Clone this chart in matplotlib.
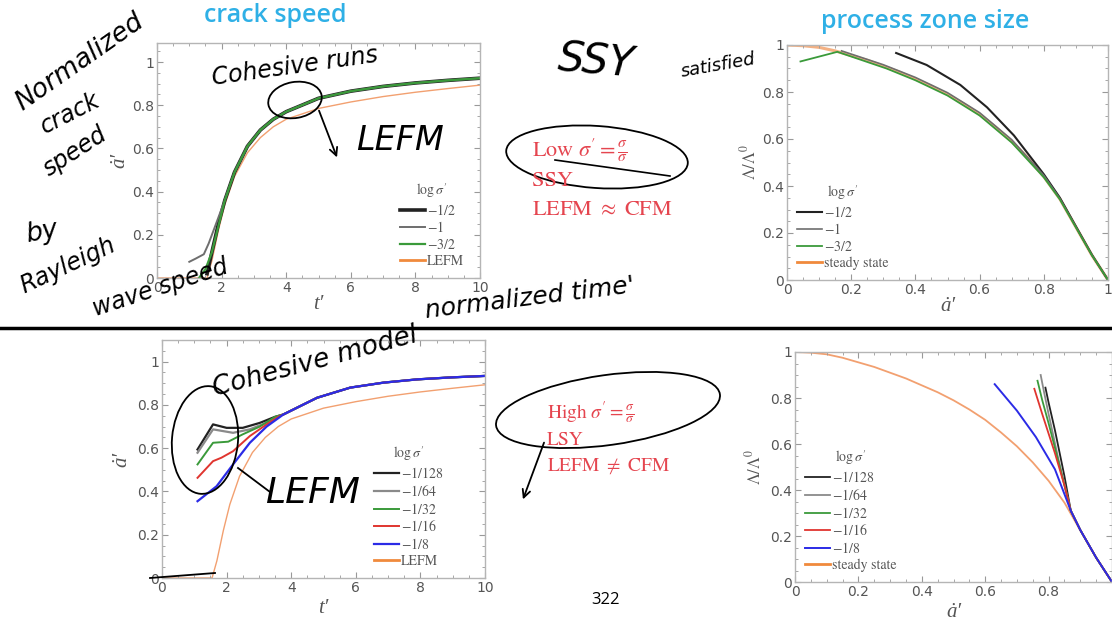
import matplotlib
matplotlib.use("Agg")
import matplotlib.pyplot as plt
from matplotlib.patches import Ellipse, FancyArrowPatch
from matplotlib.ticker import MultipleLocator, AutoMinorLocator, FuncFormatter

plt.rcParams['mathtext.fontset'] = 'stix'

# ---- crack speed, low sigma' (top left) ----
lefm_t = [0, 1.55, 1.7, 1.9, 2.1, 2.4, 2.8, 3.2, 3.6, 4, 5, 6, 7, 8, 9, 10]
lefm_v = [0, 0, 0.08, 0.22, 0.34, 0.47, 0.58, 0.65, 0.70, 0.735, 0.785, 0.815, 0.84, 0.86, 0.877, 0.893]

low_tail_t = [2.1, 2.4, 2.8, 3.2, 3.6, 4, 5, 6, 7, 8, 9, 10]
low_tail_v = [0.36, 0.49, 0.61, 0.685, 0.735, 0.77, 0.832, 0.865, 0.887, 0.903, 0.915, 0.925]
half_t = [1.55, 1.7, 1.9] + low_tail_t
half_v = [0.02, 0.12, 0.25] + low_tail_v
one_t = [1.0, 1.2, 1.45, 1.6, 1.8, 2.0] + low_tail_t
one_v = [0.075, 0.09, 0.11, 0.16, 0.24, 0.32] + low_tail_v
threehalf_t = [1.3, 1.5, 1.7, 1.9] + low_tail_t
threehalf_v = [0.0, 0.04, 0.12, 0.24] + low_tail_v

# ---- crack speed, high sigma' (bottom left) ----
high_tail_t = [3.76, 4.8, 5.83, 6.86, 7.9, 8.93, 10]
high_tail_v = [0.756, 0.833, 0.88, 0.903, 0.918, 0.927, 0.934]
s128_t = [1.1, 1.58, 2.0, 2.5, 3.03, 3.5] + high_tail_t
s128_v = [0.594, 0.71, 0.694, 0.694, 0.717, 0.745] + high_tail_v
s64_t = [1.1, 1.58, 2.2, 2.72, 3.24, 3.6] + high_tail_t
s64_v = [0.579, 0.687, 0.671, 0.687, 0.718, 0.748] + high_tail_v
s32_t = [1.1, 1.58, 2.05, 2.5, 3.03, 3.5] + high_tail_t
s32_v = [0.525, 0.625, 0.63, 0.664, 0.70, 0.745] + high_tail_v
s16_t = [1.1, 1.58, 1.84, 2.2, 2.72, 3.24, 3.6] + high_tail_t
s16_v = [0.463, 0.54, 0.556, 0.586, 0.656, 0.71, 0.745] + high_tail_v
s8_t = [1.1, 1.69, 2.2, 2.72, 3.24] + high_tail_t
s8_v = [0.355, 0.424, 0.525, 0.625, 0.70] + high_tail_v

# ---- process zone size ----
steady_a = [0, 0.05, 0.1, 0.15, 0.2, 0.25, 0.3, 0.35, 0.4, 0.45, 0.5, 0.55,
            0.6, 0.65, 0.7, 0.75, 0.8, 0.85, 0.9, 0.95, 1.0]
steady_L = [1.0, 0.997, 0.99, 0.975, 0.955, 0.935, 0.91, 0.885, 0.855, 0.825, 0.79, 0.75,
            0.705, 0.65, 0.59, 0.52, 0.44, 0.345, 0.225, 0.105, 0.0]

pz_half_a = [0.34, 0.435, 0.54, 0.623, 0.707, 0.80, 0.85, 0.9, 0.95, 1.0]
pz_half_L = [0.966, 0.915, 0.83, 0.735, 0.615, 0.45, 0.35, 0.228, 0.107, 0.0]
pz_one_a = [0.17, 0.3, 0.4, 0.5, 0.6, 0.7, 0.8, 0.85, 0.9, 0.95, 1.0]
pz_one_L = [0.975, 0.916, 0.862, 0.797, 0.712, 0.597, 0.445, 0.347, 0.226, 0.106, 0.0]
pz_3half_a = [0.042, 0.157, 0.31, 0.40, 0.5, 0.6, 0.7, 0.8, 0.85, 0.9, 0.95, 1.0]
pz_3half_L = [0.93, 0.971, 0.90, 0.85, 0.785, 0.70, 0.585, 0.437, 0.343, 0.224, 0.105, 0.0]

pz_tail_a = [0.9, 0.95, 1.0]
pz_tail_L = [0.226, 0.106, 0.0]
pz128_a = [0.79, 0.80, 0.82, 0.85, 0.87] + pz_tail_a
pz128_L = [0.845, 0.78, 0.66, 0.46, 0.31] + pz_tail_L
pz64_a = [0.775, 0.785, 0.80, 0.83, 0.87] + pz_tail_a
pz64_L = [0.90, 0.83, 0.73, 0.54, 0.31] + pz_tail_L
pz32_a = [0.765, 0.78, 0.80, 0.83, 0.87] + pz_tail_a
pz32_L = [0.875, 0.79, 0.69, 0.53, 0.31] + pz_tail_L
pz16_a = [0.755, 0.78, 0.82, 0.85, 0.87] + pz_tail_a
pz16_L = [0.84, 0.73, 0.56, 0.42, 0.31] + pz_tail_L
pz8_a = [0.63, 0.70, 0.76, 0.82, 0.87] + pz_tail_a
pz8_L = [0.86, 0.745, 0.63, 0.49, 0.31] + pz_tail_L

C_BLACK = '#222222'
C_GRAY = '#6e6e6e'
C_LGRAY = '#8a8a8a'
C_GREEN = '#3a9a3a'
C_RED = '#e0352f'
C_BLUE = '#2b2be6'
C_ORANGE = '#f2a070'
C_ORANGE_LEG = '#f08a3c'
TXT_GRAY = '#555555'

W, H = 1112, 635
fig = plt.figure(figsize=(W / 100, H / 100), dpi=100)
fig.patch.set_facecolor('white')


def box(left, top, right, bottom):
    return [left / W, 1 - bottom / H, (right - left) / W, (bottom - top) / H]


def fmt(v, pos):
    if abs(v - round(v)) < 1e-9:
        return str(int(round(v)))
    return f"{v:.1f}"


def fmt_no_one(v, pos):
    # right edge of the slide crops the last label of the lower right panel
    if v > 0.95:
        return ''
    return fmt(v, pos)


def style(ax, xmaj, ymaj, xlim, ylim, xfmt=fmt):
    ax.set_xlim(*xlim)
    ax.set_ylim(*ylim)
    ax.xaxis.set_major_locator(MultipleLocator(xmaj))
    ax.yaxis.set_major_locator(MultipleLocator(ymaj))
    ax.xaxis.set_minor_locator(AutoMinorLocator(4))
    ax.yaxis.set_minor_locator(AutoMinorLocator(4))
    ax.xaxis.set_major_formatter(FuncFormatter(xfmt))
    ax.yaxis.set_major_formatter(FuncFormatter(fmt))
    ax.tick_params(which='both', direction='in', top=True, right=True,
                   color='#999999', labelcolor=TXT_GRAY, labelsize=10, pad=2)
    ax.tick_params(which='major', length=4, width=0.8)
    ax.tick_params(which='minor', length=2, width=0.6)
    for s in ax.spines.values():
        s.set_color('#b5b5b5')
        s.set_linewidth(1.0)


def legend(ax, loc, anchor):
    leg = ax.legend(loc=loc, bbox_to_anchor=anchor, frameon=False,
                    title=r"$\log\sigma'$", prop={'family': 'STIXGeneral', 'size': 10},
                    labelspacing=0.2, handlelength=1.8, handletextpad=0.15,
                    borderpad=0.2, labelcolor=TXT_GRAY)
    leg.get_title().set_color(TXT_GRAY)
    leg.get_title().set_fontsize(10)
    return leg


lab = dict(color=TXT_GRAY, family=['Liberation Serif', 'DejaVu Serif'], style='italic')

# top left
ax1 = fig.add_axes(box(157, 43, 480, 278))
ax1.plot(lefm_t, lefm_v, color=C_ORANGE, lw=1.0, zorder=1)
ax1.plot(half_t, half_v, color=C_BLACK, lw=2.6, label=r'$-1/2$')
ax1.plot(one_t, one_v, color=C_GRAY, lw=1.4, label=r'$-1$')
ax1.plot(threehalf_t, threehalf_v, color=C_GREEN, lw=1.6, label=r'$-3/2$')
ax1.plot([], [], color=C_ORANGE_LEG, lw=2, label='LEFM')
style(ax1, 2, 0.2, (0, 10), (0, 1.088))
legend(ax1, 'lower right', (0.98, 0.0))
ax1.set_xlabel("t\u2032", fontsize=15, labelpad=0, **lab)
ax1.set_ylabel("\u0227\u2032", fontsize=15, labelpad=2, **lab)

# top right
ax2 = fig.add_axes(box(787, 45, 1108, 280))
ax2.plot(steady_a, steady_L, color='#f4b183', lw=2.2, zorder=1)
ax2.plot(pz_half_a, pz_half_L, color=C_BLACK, lw=1.5, label=r'$-1/2$')
ax2.plot(pz_one_a, pz_one_L, color=C_GRAY, lw=1.2, label=r'$-1$')
ax2.plot(pz_3half_a, pz_3half_L, color=C_GREEN, lw=1.3, label=r'$-3/2$')
ax2.plot([], [], color=C_ORANGE_LEG, lw=2, label='steady state')
style(ax2, 0.2, 0.2, (0, 1), (0, 1))
legend(ax2, 'lower left', (0.0, 0.0))
ax2.set_xlabel("\u0227\u2032", fontsize=15, labelpad=0, **lab)
ax2.set_ylabel(r"$\Lambda/\Lambda^0$", color=TXT_GRAY, fontsize=12, labelpad=2)

# bottom left
ax3 = fig.add_axes(box(162, 340, 485, 578))
ax3.plot(lefm_t, lefm_v, color=C_ORANGE, lw=1.0, zorder=1)
ax3.plot(s128_t, s128_v, color=C_BLACK, lw=1.6, label=r'$-1/128$')
ax3.plot(s64_t, s64_v, color=C_LGRAY, lw=1.6, label=r'$-1/64$')
ax3.plot(s32_t, s32_v, color=C_GREEN, lw=1.4, label=r'$-1/32$')
ax3.plot(s16_t, s16_v, color=C_RED, lw=1.4, label=r'$-1/16$')
ax3.plot(s8_t, s8_v, color=C_BLUE, lw=1.6, label=r'$-1/8$')
ax3.plot([], [], color=C_ORANGE_LEG, lw=2, label='LEFM')
style(ax3, 2, 0.2, (0, 10), (0, 1.10))
legend(ax3, 'lower right', (0.9, 0.0))
ax3.set_xlabel("t\u2032", fontsize=15, labelpad=3, **lab)
ax3.set_ylabel("\u0227\u2032", fontsize=15, labelpad=4, **lab)

# bottom right
ax4 = fig.add_axes(box(795, 352, 1112, 582))
ax4.plot(steady_a, steady_L, color=C_ORANGE, lw=1.3, zorder=1)
ax4.plot(pz128_a, pz128_L, color=C_BLACK, lw=1.3, label=r'$-1/128$')
ax4.plot(pz64_a, pz64_L, color=C_LGRAY, lw=1.3, label=r'$-1/64$')
ax4.plot(pz32_a, pz32_L, color=C_GREEN, lw=1.3, label=r'$-1/32$')
ax4.plot(pz16_a, pz16_L, color=C_RED, lw=1.3, label=r'$-1/16$')
ax4.plot(pz8_a, pz8_L, color=C_BLUE, lw=1.4, label=r'$-1/8$')
ax4.plot([], [], color=C_ORANGE_LEG, lw=2, label='steady state')
style(ax4, 0.2, 0.2, (0, 1), (0, 1), xfmt=fmt_no_one)
legend(ax4, 'lower left', (0.0, 0.0))
ax4.set_xlabel("\u0227\u2032", fontsize=15, labelpad=3, **lab)
ax4.set_ylabel(r"$\Lambda/\Lambda^0$", color=TXT_GRAY, fontsize=12, labelpad=4)

# overlay in pixel coordinates for slide text and pen annotations
ov = fig.add_axes([0, 0, 1, 1], zorder=10)
ov.set_xlim(0, W)
ov.set_ylim(H, 0)
ov.axis('off')
ov.patch.set_alpha(0)

ov.plot([0, W], [328, 328], color='black', lw=2.5)
ov.text(275, 15, 'crack speed', color='#2fb0e6', fontsize=18, family='Open Sans',
        fontweight='semibold', ha='center', va='center')
ov.text(925, 22, 'process zone size', color='#2fb0e6', fontsize=18, family='Open Sans',
        fontweight='semibold', ha='center', va='center')
ov.text(606, 600, '322', color='black', fontsize=12, family='Open Sans',
        ha='center', va='center')

RED = '#e5454f'
ov.text(532, 150, r"Low $\sigma' = \frac{\sigma}{\sigma}$", color=RED, fontsize=16,
        family='STIXGeneral', ha='left', va='center')
ov.text(532, 181, 'SSY', color=RED, fontsize=16, family='STIXGeneral', ha='left', va='center')
ov.text(532, 210, r"LEFM $\approx$ CFM", color=RED, fontsize=16, family='STIXGeneral',
        ha='left', va='center')
ov.text(547, 413, r"High $\sigma' = \frac{\sigma}{\sigma}$", color=RED, fontsize=14,
        family='STIXGeneral', ha='left', va='center')
ov.text(547, 440, 'LSY', color=RED, fontsize=14, family='STIXGeneral', ha='left', va='center')
ov.text(547, 466, r"LEFM $\neq$ CFM", color=RED, fontsize=14, family='STIXGeneral',
        ha='left', va='center')

pen = dict(color='black', family='DejaVu Sans', style='oblique', ha='center', va='center',
           fontweight='light')
ov.text(80, 62, 'Normalized', fontsize=19, rotation=35, **pen)
ov.text(70, 113, 'crack', fontsize=17, rotation=27, **pen)
ov.text(75, 152, 'speed', fontsize=17, rotation=33, **pen)
ov.text(42, 232, 'by', fontsize=19, rotation=10, **pen)
ov.text(68, 265, 'Rayleigh', fontsize=17, rotation=25, **pen)
ov.text(160, 288, 'wave speed', fontsize=17, rotation=18, **pen)
ov.text(295, 66, 'Cohesive runs', fontsize=17, rotation=8, **pen)
ov.text(400, 140, 'LEFM', fontsize=24, **pen)
ov.text(596, 62, 'SSY', fontsize=30, rotation=-5, **pen)
ov.text(718, 66, 'satisfied', fontsize=13, rotation=10, **pen)
ov.text(530, 298, "normalized time'", fontsize=18, rotation=7, **pen)
ov.text(315, 362, 'Cohesive model', fontsize=19, rotation=15, **pen)
ov.text(312, 493, 'LEFM', fontsize=26, **pen)

for (cx, cy, w, h, ang) in [(295, 100, 54, 36, -10), (597, 157, 182, 62, 4),
                            (205, 440, 66, 108, 5), (608, 410, 226, 70, -8)]:
    ov.add_patch(Ellipse((cx, cy), w, h, angle=ang, fill=False, ec='black', lw=1.3))

for (x0, y0, x1, y1) in [(318, 108, 338, 160), (545, 440, 522, 502)]:
    ov.add_patch(FancyArrowPatch((x0, y0), (x1, y1), arrowstyle='->', mutation_scale=14,
                                 color='black', lw=1.3))
ov.plot([238, 270], [468, 492], color='black', lw=1.3)
ov.plot([150, 215], [578, 573], color='black', lw=1.3)
ov.plot([555, 670], [160, 176], color='black', lw=1.2)

fig.savefig('out.png', dpi=100, facecolor='white')
